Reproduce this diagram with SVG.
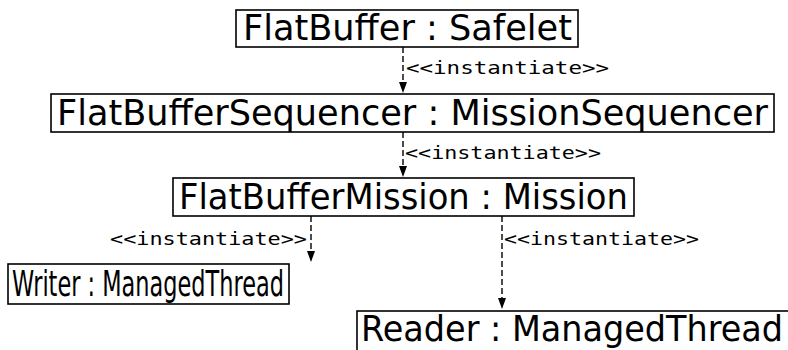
<svg xmlns="http://www.w3.org/2000/svg" width="788" height="350" viewBox="0 0 788 350">
<style>
.box{fill:#fff;stroke:#000;stroke-width:1.6}
.nt{font-family:"DejaVu Sans","Liberation Sans",sans-serif;font-size:35px;fill:#000}
.lbl{font-family:"DejaVu Sans Mono","Liberation Mono",monospace;font-size:18px;fill:#000}
.con{stroke:#000;stroke-width:1.4;fill:none;stroke-dasharray:6,3}
</style>
<rect width="788" height="350" fill="#fff"/>
<g id="connectors">
<line class="con" x1="403" y1="47" x2="403" y2="82"/>
<path d="M399,82 L407,82 L403,93 Z" fill="#000"/>
<text class="lbl" x="406" y="74" textLength="203" lengthAdjust="spacingAndGlyphs">&lt;&lt;instantiate&gt;&gt;</text>
<line class="con" x1="403" y1="132" x2="403" y2="166"/>
<path d="M399,166 L407,166 L403,177 Z" fill="#000"/>
<text class="lbl" x="405" y="159" textLength="196" lengthAdjust="spacingAndGlyphs">&lt;&lt;instantiate&gt;&gt;</text>
<line class="con" x1="311" y1="216" x2="311" y2="251"/>
<path d="M307,251 L315,251 L311,262 Z" fill="#000"/>
<text class="lbl" x="110" y="245" textLength="197" lengthAdjust="spacingAndGlyphs">&lt;&lt;instantiate&gt;&gt;</text>
<line class="con" x1="502" y1="216" x2="502" y2="298"/>
<path d="M498,298 L506,298 L502,309 Z" fill="#000"/>
<text class="lbl" x="504" y="245" textLength="195" lengthAdjust="spacingAndGlyphs">&lt;&lt;instantiate&gt;&gt;</text>
</g>
<g id="flatbuffer">
<rect class="box" x="236" y="10" width="342" height="37"/>
<text class="nt" x="243" y="40" textLength="329" lengthAdjust="spacingAndGlyphs">FlatBuffer : Safelet</text>
</g>
<g id="sequencer">
<rect class="box" x="51" y="94" width="723" height="38"/>
<text class="nt" x="57" y="125" textLength="711" lengthAdjust="spacingAndGlyphs">FlatBufferSequencer : MissionSequencer</text>
</g>
<g id="mission">
<rect class="box" x="173" y="178" width="461" height="38"/>
<text class="nt" x="179" y="209" textLength="449" lengthAdjust="spacingAndGlyphs">FlatBufferMission : Mission</text>
</g>
<g id="writer">
<rect class="box" x="8" y="264" width="281" height="40"/>
<text class="nt" x="12" y="296" textLength="272" lengthAdjust="spacingAndGlyphs">Writer : ManagedThread</text>
</g>
<g id="reader">
<rect class="box" x="357" y="311" width="440" height="50"/>
<text class="nt" x="361" y="341" textLength="422" lengthAdjust="spacingAndGlyphs">Reader : ManagedThread</text>
</g>
</svg>
